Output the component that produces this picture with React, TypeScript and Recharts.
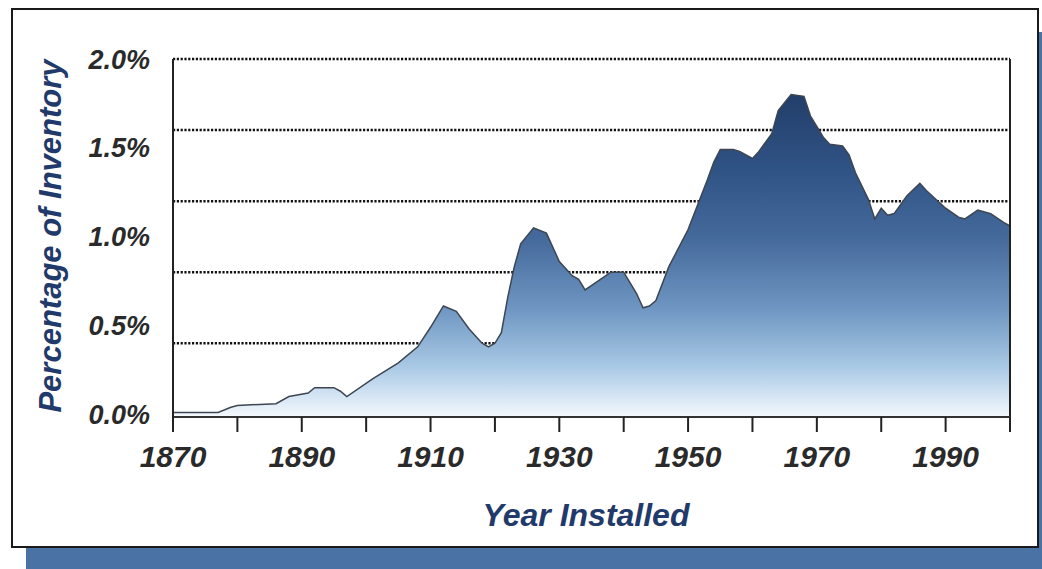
import { AreaChart, Area, XAxis, YAxis, CartesianGrid, ReferenceLine } from "recharts";

// Year installed vs share of inventory.
const years = [
  1870, 1877, 1879, 1880, 1886, 1888, 1891, 1892, 1895, 1896, 1897, 1901, 1905, 1908,
  1910, 1912, 1914, 1916, 1918, 1919, 1920, 1921, 1922, 1923, 1924, 1926, 1928, 1930,
  1932, 1933, 1934, 1936, 1938, 1940, 1942, 1943, 1944, 1945, 1947, 1950, 1953, 1954,
  1955, 1957, 1958, 1960, 1961, 1963, 1964, 1966, 1968, 1969, 1971, 1972, 1974, 1975,
  1976, 1978, 1979, 1980, 1981, 1982, 1984, 1986, 1987, 1990, 1992, 1993, 1995, 1997,
  1999, 2000,
];
const shares = [
  0.01, 0.01, 0.04, 0.05, 0.06, 0.1, 0.12, 0.15, 0.15, 0.13, 0.1, 0.2, 0.29, 0.38,
  0.49, 0.61, 0.58, 0.48, 0.4, 0.38, 0.4, 0.46, 0.66, 0.83, 0.96, 1.05, 1.02, 0.86,
  0.78, 0.76, 0.7, 0.75, 0.8, 0.8, 0.68, 0.6, 0.61, 0.64, 0.83, 1.04, 1.32, 1.42,
  1.49, 1.49, 1.48, 1.44, 1.48, 1.58, 1.71, 1.8, 1.79, 1.68, 1.56, 1.52, 1.51, 1.46,
  1.36, 1.21, 1.1, 1.16, 1.12, 1.13, 1.23, 1.3, 1.26, 1.16, 1.11, 1.1, 1.15, 1.13,
  1.08, 1.06,
];
const xTicks = [1870, 1880, 1890, 1900, 1910, 1920, 1930, 1940, 1950, 1960, 1970, 1980, 1990, 2000];
const xLabels = [1870, 1890, 1910, 1930, 1950, 1970, 1990];
const yTicks = [0, 0.5, 1, 1.5, 2];
// the dotted rules in the original sit at 0.4% steps, not on the labels
const gridValues = [0.4, 0.8, 1.2, 1.6, 2.0];

const data = years.map((year, i) => ({ year, share: shares[i] }));

const FONT = '"Liberation Sans", Arial, sans-serif';
const NAVY = "#1f3a6b";

export default function App() {
  return (
    <div style={{ position: "absolute", left: 0, top: 0, width: 1042, height: 569, overflow: "hidden", background: "#fff", fontFamily: FONT }}>
      <div style={{ position: "absolute", left: 26, top: 32, width: 1030, height: 550, background: "#4a72a5" }} />
      <div style={{ position: "absolute", left: 11, top: 8, width: 1024, height: 536, background: "#fff", border: "2px solid #1a1a1a" }} />
      <div style={{ position: "absolute", left: 0, top: 0 }}>
        <AreaChart width={1042} height={569} data={data} margin={{ top: 59, right: 32, left: 0, bottom: 92 }}>
          <defs>
            <linearGradient id="areaFill" gradientUnits="userSpaceOnUse" x1="0" y1="59" x2="0" y2="417">
              <stop offset="0" stopColor="#1b3562" />
              <stop offset="0.12" stopColor="#24406c" />
              <stop offset="0.3" stopColor="#2f5284" />
              <stop offset="0.5" stopColor="#44699b" />
              <stop offset="0.7" stopColor="#6f97c2" />
              <stop offset="0.86" stopColor="#a9c9e5" />
              <stop offset="1" stopColor="#f4f9fd" />
            </linearGradient>
          </defs>
          <CartesianGrid
            vertical={false}
            horizontalValues={gridValues}
            stroke="#111"
            strokeOpacity={1}
            strokeWidth={2.5}
            strokeDasharray="2.2 1.6"
          />
          <XAxis
            dataKey="year"
            type="number"
            domain={[1870, 2000]}
            ticks={xTicks}
            interval={0}
            tickFormatter={(v) => (xLabels.includes(v) ? String(v) : "")}
            tickSize={15}
            tickMargin={14}
            height={60}
            axisLine={{ stroke: "#333", strokeWidth: 2 }}
            tickLine={{ stroke: "#222", strokeWidth: 2 }}
            tick={{ fill: "#2a2a2a", fontSize: 30, fontWeight: 700, fontStyle: "italic", fontFamily: FONT }}
          />
          <YAxis
            type="number"
            domain={[-0.015, 2]}
            ticks={yTicks}
            interval={0}
            tickFormatter={(v) => `${v.toFixed(1)}%`}
            width={173}
            tickLine={false}
            tickSize={0}
            tickMargin={23}
            axisLine={{ stroke: "#222", strokeWidth: 2 }}
            tick={{ fill: "#2a2a2a", fontSize: 27, fontWeight: 700, fontStyle: "italic", fontFamily: FONT }}
          />
          <ReferenceLine x={2000} stroke="#222" strokeWidth={2} />
          <Area
            type="linear"
            dataKey="share"
            baseValue="dataMin"
            stroke="#3d4652"
            strokeWidth={1.5}
            fill="url(#areaFill)"
            fillOpacity={1}
            dot={false}
            activeDot={false}
            isAnimationActive={false}
          />
        </AreaChart>
      </div>
      <div
        style={{
          position: "absolute",
          left: 51,
          top: 236,
          transform: "translate(-50%, -50%) rotate(-90deg)",
          whiteSpace: "nowrap",
          color: NAVY,
          fontSize: 31,
          fontWeight: 700,
          fontStyle: "italic",
        }}
      >
        Percentage of Inventory
      </div>
      <div
        style={{
          position: "absolute",
          left: 586,
          top: 515,
          transform: "translate(-50%, -50%)",
          whiteSpace: "nowrap",
          color: NAVY,
          fontSize: 32,
          fontWeight: 700,
          fontStyle: "italic",
        }}
      >
        Year Installed
      </div>
    </div>
  );
}
